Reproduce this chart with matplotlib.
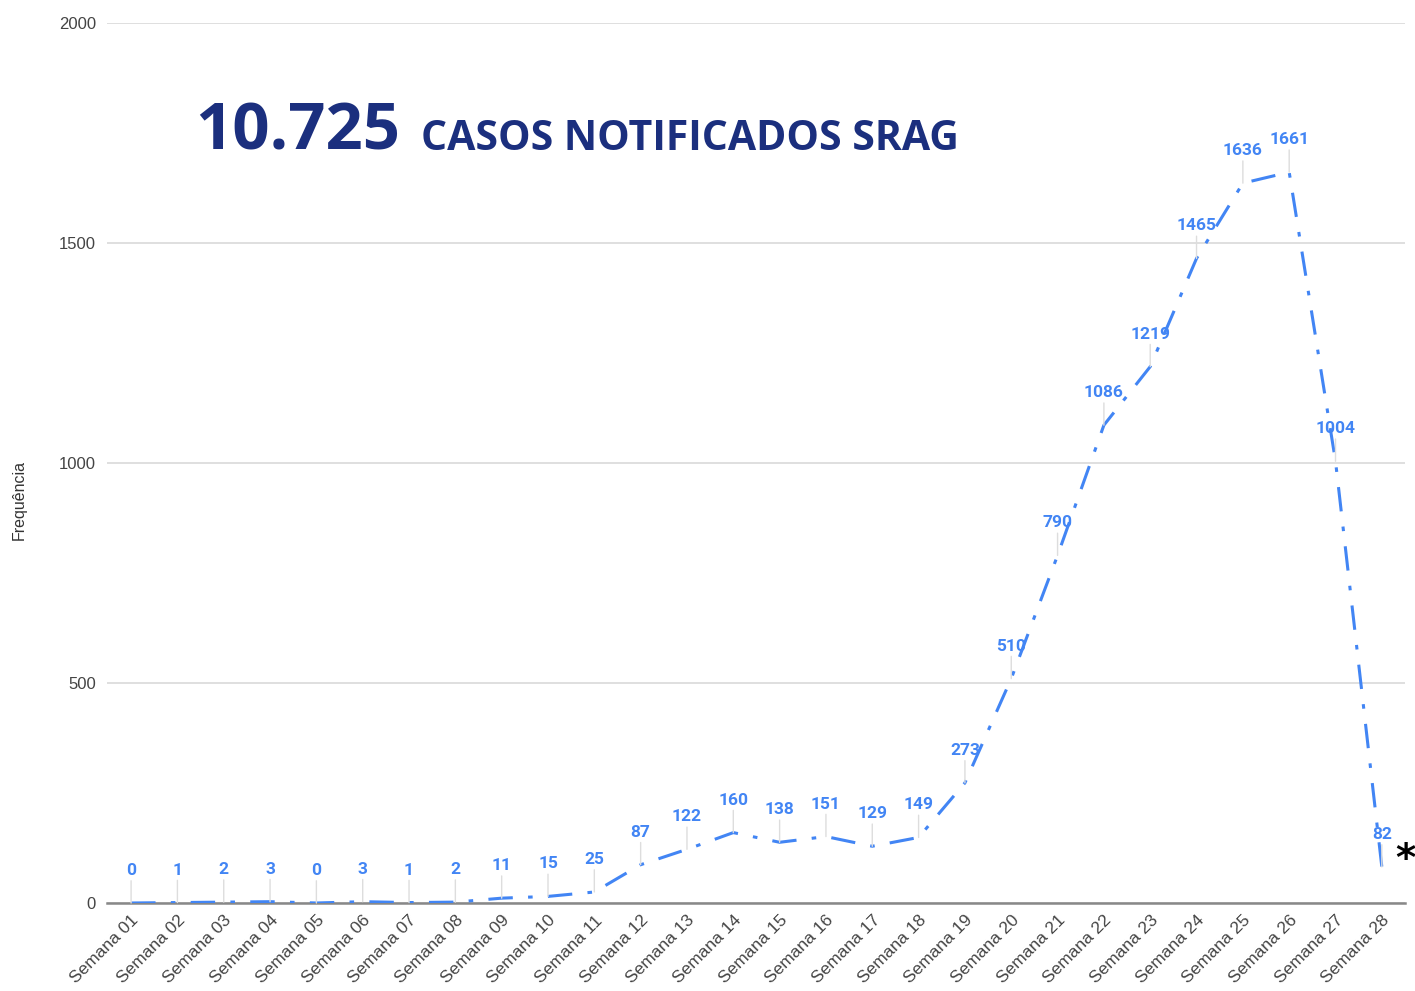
import numpy as np
import matplotlib.pyplot as plt

semanas = ["Semana %02d" % i for i in range(1, 29)]
casos = [0, 1, 2, 3, 0, 3, 1, 2, 11, 15, 25, 87, 122, 160, 138, 151, 129, 149,
         273, 510, 790, 1086, 1219, 1465, 1636, 1661, 1004, 82]

AZUL = "#4285F4"
NAVY = "#1B2F7E"

fig = plt.figure(figsize=(14.15, 9.91), dpi=100)
ax = fig.add_axes([107 / 1415, 1 - 903 / 991, 1298 / 1415, 880 / 991])

x = np.arange(len(casos))
ax.plot(x, casos, color=AZUL, lw=2.2, linestyle=(0, (8, 5, 1.5, 5)), zorder=3)

# rotulos com linha guia
for xi, v in zip(x, casos):
    ax.annotate(str(v), xy=(xi, v), xytext=(0, 18), textcoords="offset points",
                ha="center", va="bottom", color=AZUL, fontsize=12.5, fontweight="bold",
                family="Roboto",
                arrowprops=dict(arrowstyle="-", color="#DDDDDD", lw=1, shrinkA=0, shrinkB=0),
                zorder=4)

ax.set_xlim(-0.52, 27.5)
ax.set_ylim(0, 2000)
ax.set_yticks([0, 500, 1000, 1500, 2000])
ax.set_xticks(x)
ax.set_xticklabels(semanas, rotation=45, ha="right", rotation_mode="anchor",
                   fontsize=12.5, color="#444444", family="Liberation Sans")
for lbl in ax.get_yticklabels():
    lbl.set_fontsize(12)
    lbl.set_color("#444444")
    lbl.set_family("Liberation Sans")
ax.tick_params(axis="y", length=0, pad=8)
ax.tick_params(axis="x", length=0, pad=7)
ax.grid(axis="y", color="#D9D9D9", lw=1.2)
ax.set_axisbelow(True)
for s in ["top", "right", "left"]:
    ax.spines[s].set_visible(False)
ax.spines["bottom"].set_color("#888888")
ax.spines["bottom"].set_linewidth(1.8)

fig.text(19 / 1415, 1 - 500 / 991, "Frequência", rotation=90, ha="center", va="center",
         fontsize=11.5, color="#333333", family="Liberation Sans")

fig.text(195 / 1415, 1 - 150 / 991, "10.725", fontsize=47, fontweight="bold",
         color=NAVY, family="Open Sans", va="baseline")
fig.text(421 / 1415, 1 - 150 / 991, "CASOS NOTIFICADOS SRAG", fontsize=29.5, fontweight="bold",
         color=NAVY, family="Open Sans", va="baseline")

fig.text(1405 / 1415, 1 - 860 / 991, "*", fontsize=28, fontweight="bold", color="black",
         ha="center", va="center")

fig.savefig("out.png", dpi=100, facecolor="white")
